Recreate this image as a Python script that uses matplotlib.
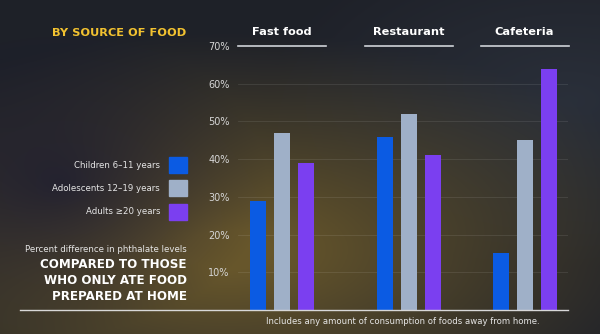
import numpy as np
import matplotlib.pyplot as plt
from matplotlib.patches import Rectangle

# data
categories = ['Fast food', 'Restaurant', 'Cafeteria']
groups = ['Children 6\u201311 years', 'Adolescents 12\u201319 years', 'Adults \u226520 years']
children = [29, 46, 15]
adolescents = [47, 52, 45]
adults = [39, 41, 64]
yticks = [10, 20, 30, 40, 50, 60, 70]

colors = ['#0b5be3', '#9fb0c8', '#7b3ff0']
txt = '#e6e6e6'

fig = plt.figure(figsize=(6, 3.34), dpi=100)

# background: dark slate, golden glow low-centre, navy patch on the left
bg = fig.add_axes([0, 0, 1, 1])
yy, xx = np.mgrid[0:1:200j, 0:1:360j]
dark = np.array([0.12, 0.13, 0.16])
gold = np.array([0.42, 0.35, 0.17])
navy = np.array([0.06, 0.07, 0.20])
slate = np.array([0.20, 0.23, 0.28])
w_gold = np.clip(1.1 - np.hypot((xx - 0.38) * 1.0, (yy - 0.75) * 1.2) * 1.4, 0, 1) ** 1.1
w_navy = np.clip(0.9 - np.hypot((xx - 0.1) * 1.3, (yy - 0.55)) * 2.0, 0, 1)
w_slate = np.clip(0.8 - np.hypot(xx - 0.95, yy - 0.3) * 1.6, 0, 1)
img = dark[None, None, :] * np.ones_like(xx)[..., None]
for col, w, a in [(slate, w_slate, 0.7), (gold, w_gold, 0.95), (navy, w_navy, 0.7)]:
    img = img * (1 - a * w[..., None]) + col[None, None, :] * a * w[..., None]
bg.imshow(img, aspect='auto', extent=[0, 1, 1, 0])
bg.set_xlim(0, 1)
bg.set_ylim(1, 0)
bg.axis('off')

ax = fig.add_axes([0.3967, 0.0719, 0.55, 0.7904])
ax.patch.set_alpha(0)
centers = np.array([0, 1, 1.91])
bw = 0.126
step = 0.189
for i, vals in enumerate([children, adolescents, adults]):
    ax.bar(centers + (i - 1) * step, vals, width=bw, color=colors[i], zorder=3)

ax.set_xlim(-0.346, 2.252)
ax.set_ylim(0, 70)
ax.set_yticks(yticks)
ax.set_yticklabels([f'{v}%' for v in yticks], color='#d6d6d6', fontsize=7)
ax.tick_params(axis='y', length=0, pad=6)
ax.set_xticks([])
for s in ax.spines.values():
    s.set_visible(False)
for v in yticks[:-1]:
    ax.axhline(v, color='#ffffff', alpha=0.10, lw=0.6, zorder=1)

# category headers with underline segments
for c, name in zip(centers, categories):
    ax.plot([c - 0.346, c + 0.346], [70, 70], color='#cfd3d8', lw=1.2, clip_on=False, zorder=4)
    ax.text(c, 72.5, name, ha='center', va='bottom', color='white', fontsize=8.2, fontweight='bold')

# baseline across the full width
fig.add_artist(plt.Line2D([20 / 600, 568 / 600], [1 - 310 / 334] * 2, color='#d8d8d8', lw=1.0))

fig.text(186 / 600, 1 - 33 / 334, 'BY SOURCE OF FOOD', ha='right', va='center',
         color='#f2c230', fontsize=8.2, fontweight='bold')

# legend
for k, (lab, col) in enumerate(zip(groups, colors)):
    yc = 165 + k * 23.5
    fig.text(160 / 600, 1 - yc / 334, lab, ha='right', va='center', color=txt, fontsize=6.2)
    fig.add_artist(Rectangle((169 / 600, 1 - (yc + 8) / 334), 18 / 600, 16 / 334,
                             color=col, transform=fig.transFigure))

fig.text(187 / 600, 1 - 250 / 334, 'Percent difference in phthalate levels', ha='right', va='center',
         color=txt, fontsize=6.2)
for k, line in enumerate(['COMPARED TO THOSE', 'WHO ONLY ATE FOOD', 'PREPARED AT HOME']):
    fig.text(187 / 600, 1 - (265 + k * 15.5) / 334, line, ha='right', va='center',
             color='white', fontsize=8.6, fontweight='bold')

fig.text(403 / 600, 1 - 321 / 334, 'Includes any amount of consumption of foods away from home.',
         ha='center', va='center', color=txt, fontsize=6.1)

fig.savefig('out.png', dpi=100)
